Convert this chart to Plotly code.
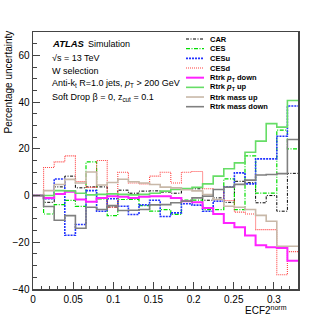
import plotly.graph_objects as go

# ECF2^norm bins (25 bins from 0 to 0.33)
n_bins = 25
bin_width = 0.0132
bin_edges = [round(i * bin_width, 4) for i in range(n_bins + 1)]

car = [0, -2.9, 3.7, 8.3, 3.3, 3.7, 3.7, -4.9, 2.3, 1.0, 1.9, 2.0, 1.5, 1.0, 2.6, 2.9, -2.0, -1.0, -2.9, 6.1, 5.5, -3.1, 0.0, -6.7, 9.5]
ces = [0, -7.9, -3.9, -2.1, -4.6, 14.4, -1.4, -8.6, -1.7, -1.7, -4.3, -6.7, -6.0, -8.1, -2.0, -2.0, -6.0, -6.0, 7.1, -6.0, 17.0, 1.0, 1.0, 28.0, 20.0]
cesu = [0, -1.4, 7.1, -17.0, -12.4, 2.1, -6.7, -1.4, -4.6, -8.1, -4.0, -2.0, -9.0, -7.4, -3.5, -4.1, -6.7, -2.4, 3.7, 9.7, 5.0, 15.7, 15.7, 25.4, 38.3]
cesd = [0, 12.0, 14.4, 17.0, 6.0, 3.5, 15.0, -5.0, 10.0, 5.4, 5.0, 8.3, 10.0, 5.4, 10.0, 10.3, 2.9, 2.6, -2.1, -7.1, -7.9, -14.6, -14.6, -33.9, -24.0]
rtrk_pt_down = [0, -1.0, 0.7, 1.6, -1.7, -2.7, -1.1, -0.3, -0.5, -1.0, -0.5, -0.3, -0.3, -1.0, -2.4, -2.9, -5.3, -7.9, -11.7, -13.6, -17.1, -21.3, -22.1, -22.4, -27.9]
rtrk_pt_up = [0, 0.0, 2.1, 2.0, 1.0, 0.3, 0.5, 0.7, 0.5, 0.3, 0.5, 1.0, 1.9, 2.6, 3.0, 3.5, 5.0, 8.3, 11.5, 14.0, 18.5, 23.3, 30.8, 29.3, 40.7]
rtrk_mass_up = [0, 2.1, 4.7, 6.9, 5.4, 10.1, 4.5, 5.6, 7.0, 5.9, 5.4, 4.7, 3.6, 3.3, 2.5, 2.0, 0.4, -1.7, -4.6, -5.0, -6.0, -8.5, -11.0, -21.7, -21.7]
rtrk_mass_down = [0, -4.7, -10.6, -8.6, -14.0, -5.0, -6.0, -4.3, -6.4, -6.3, -6.0, -4.0, -3.9, -3.1, -2.4, -1.0, -0.3, 2.6, 3.6, 4.8, 6.6, 8.8, 9.0, 9.4, 24.0]

series_names = ["CAR", "CES", "CESu", "CESd", "Rtrk <i>p</i><sub>T</sub> down", "Rtrk <i>p</i><sub>T</sub> up",
                "Rtrk mass up", "Rtrk mass down"]
series_values = [car, ces, cesu, cesd, rtrk_pt_down, rtrk_pt_up, rtrk_mass_up, rtrk_mass_down]

styles = [
    dict(color="#000000", width=1.0, dash="3px,1.5px,1px,1.5px"),
    dict(color="#00dd00", width=1.2, dash="4px,1.5px,1px,1.5px"),
    dict(color="#2233ff", width=1.6, dash="2px,1px"),
    dict(color="#ff4040", width=1.1, dash="1px,1px"),
    dict(color="#ff22ff", width=2.0, dash="solid"),
    dict(color="#66dd66", width=1.6, dash="solid"),
    dict(color="#c8b8a8", width=1.6, dash="solid"),
    dict(color="#808080", width=1.6, dash="solid"),
]

fig = go.Figure()
for name, vals, st in zip(series_names, series_values, styles):
    xs = bin_edges
    ys = list(vals) + [vals[-1]]
    fig.add_trace(go.Scatter(x=xs, y=ys, mode="lines", line=dict(shape="hv", **st),
                             name=name, showlegend=False, hoverinfo="skip"))

W, H = 332, 322
L, R, T, B = 33, 34, 32, 33
pw, ph = W - L - R, H - T - B

def px(x):
    return (x - L) / pw

def py(y):
    return (H - B - y) / ph

font = "Liberation Sans, Arial, Helvetica, sans-serif"
shapes = []
annotations = []

# manual legend
leg_y0 = 39
leg_dy = 9.67
for i, (name, st) in enumerate(zip(series_names, styles)):
    y = leg_y0 + i * leg_dy
    shapes.append(dict(type="line", xref="paper", yref="paper", x0=px(186), x1=px(204),
                       y0=py(y), y1=py(y), line=dict(color=st["color"], width=st["width"], dash=st["dash"])))
    annotations.append(dict(xref="paper", yref="paper", x=px(208), y=py(y), xanchor="left", yanchor="middle",
                            text="<b>" + name + "</b>", showarrow=False,
                            font=dict(family=font, size=7.5, color="black")))

# ATLAS labels
annotations.append(dict(xref="paper", yref="paper", x=px(50), y=py(44), xanchor="left", yanchor="middle",
                        text="<b><i>ATLAS</i></b>", showarrow=False, font=dict(family=font, size=9.5, color="black")))
annotations.append(dict(xref="paper", yref="paper", x=px(86), y=py(44), xanchor="left", yanchor="middle",
                        text="Simulation", showarrow=False, font=dict(family=font, size=9, color="black")))
texts = [
    ("√s = 13 TeV", 58),
    ("W selection", 71),
    ("Anti-k<sub>t</sub> R=1.0 jets, <i>p</i><sub>T</sub> > 200 GeV", 84),
    ("Soft Drop β = 0, z<sub>cut</sub> = 0.1", 97),
]
for t, y in texts:
    annotations.append(dict(xref="paper", yref="paper", x=px(50), y=py(y), xanchor="left", yanchor="middle",
                            text=t, showarrow=False, font=dict(family=font, size=9, color="black")))

# axis titles
annotations.append(dict(xref="paper", yref="paper", x=px(8), y=py(29), xanchor="center", yanchor="top",
                        text="Percentage uncertainty", textangle=-90, showarrow=False,
                        font=dict(family=font, size=10, color="black")))
annotations.append(dict(xref="paper", yref="paper", x=px(289), y=py(310), xanchor="right", yanchor="middle",
                        text="ECF2<sup>norm</sup>", showarrow=False,
                        font=dict(family=font, size=10, color="black")))

fig.update_layout(
    width=W, height=H,
    margin=dict(l=L, r=R, t=T, b=B, pad=0),
    plot_bgcolor="white", paper_bgcolor="white",
    showlegend=False,
    shapes=shapes, annotations=annotations,
    font=dict(family=font, size=10, color="black"),
    xaxis=dict(range=[0, 0.33], showgrid=False, zeroline=False, showline=True, mirror=True,
               linecolor="#444444", linewidth=1.5, ticks="inside", ticklen=7, tickwidth=1,
               tickcolor="#444444", tick0=0, dtick=0.05, automargin=False,
               minor=dict(ticks="inside", ticklen=3.5, dtick=0.01, tickcolor="#444444", showgrid=False),
               tickfont=dict(family=font, size=10)),
    yaxis=dict(range=[-40, 70], showgrid=False, zeroline=False, showline=True, mirror=True,
               linecolor="#444444", linewidth=1.5, ticks="inside", ticklen=7, tickwidth=1,
               tickcolor="#444444", tick0=-40, dtick=20, automargin=False,
               minor=dict(ticks="inside", ticklen=3.5, dtick=5, tickcolor="#444444", showgrid=False),
               tickfont=dict(family=font, size=10)),
)

fig.write_html("out.html", config={"displayModeBar": False, "staticPlot": True},
               post_script="document.body.style.margin='0';document.body.style.padding='0';")
